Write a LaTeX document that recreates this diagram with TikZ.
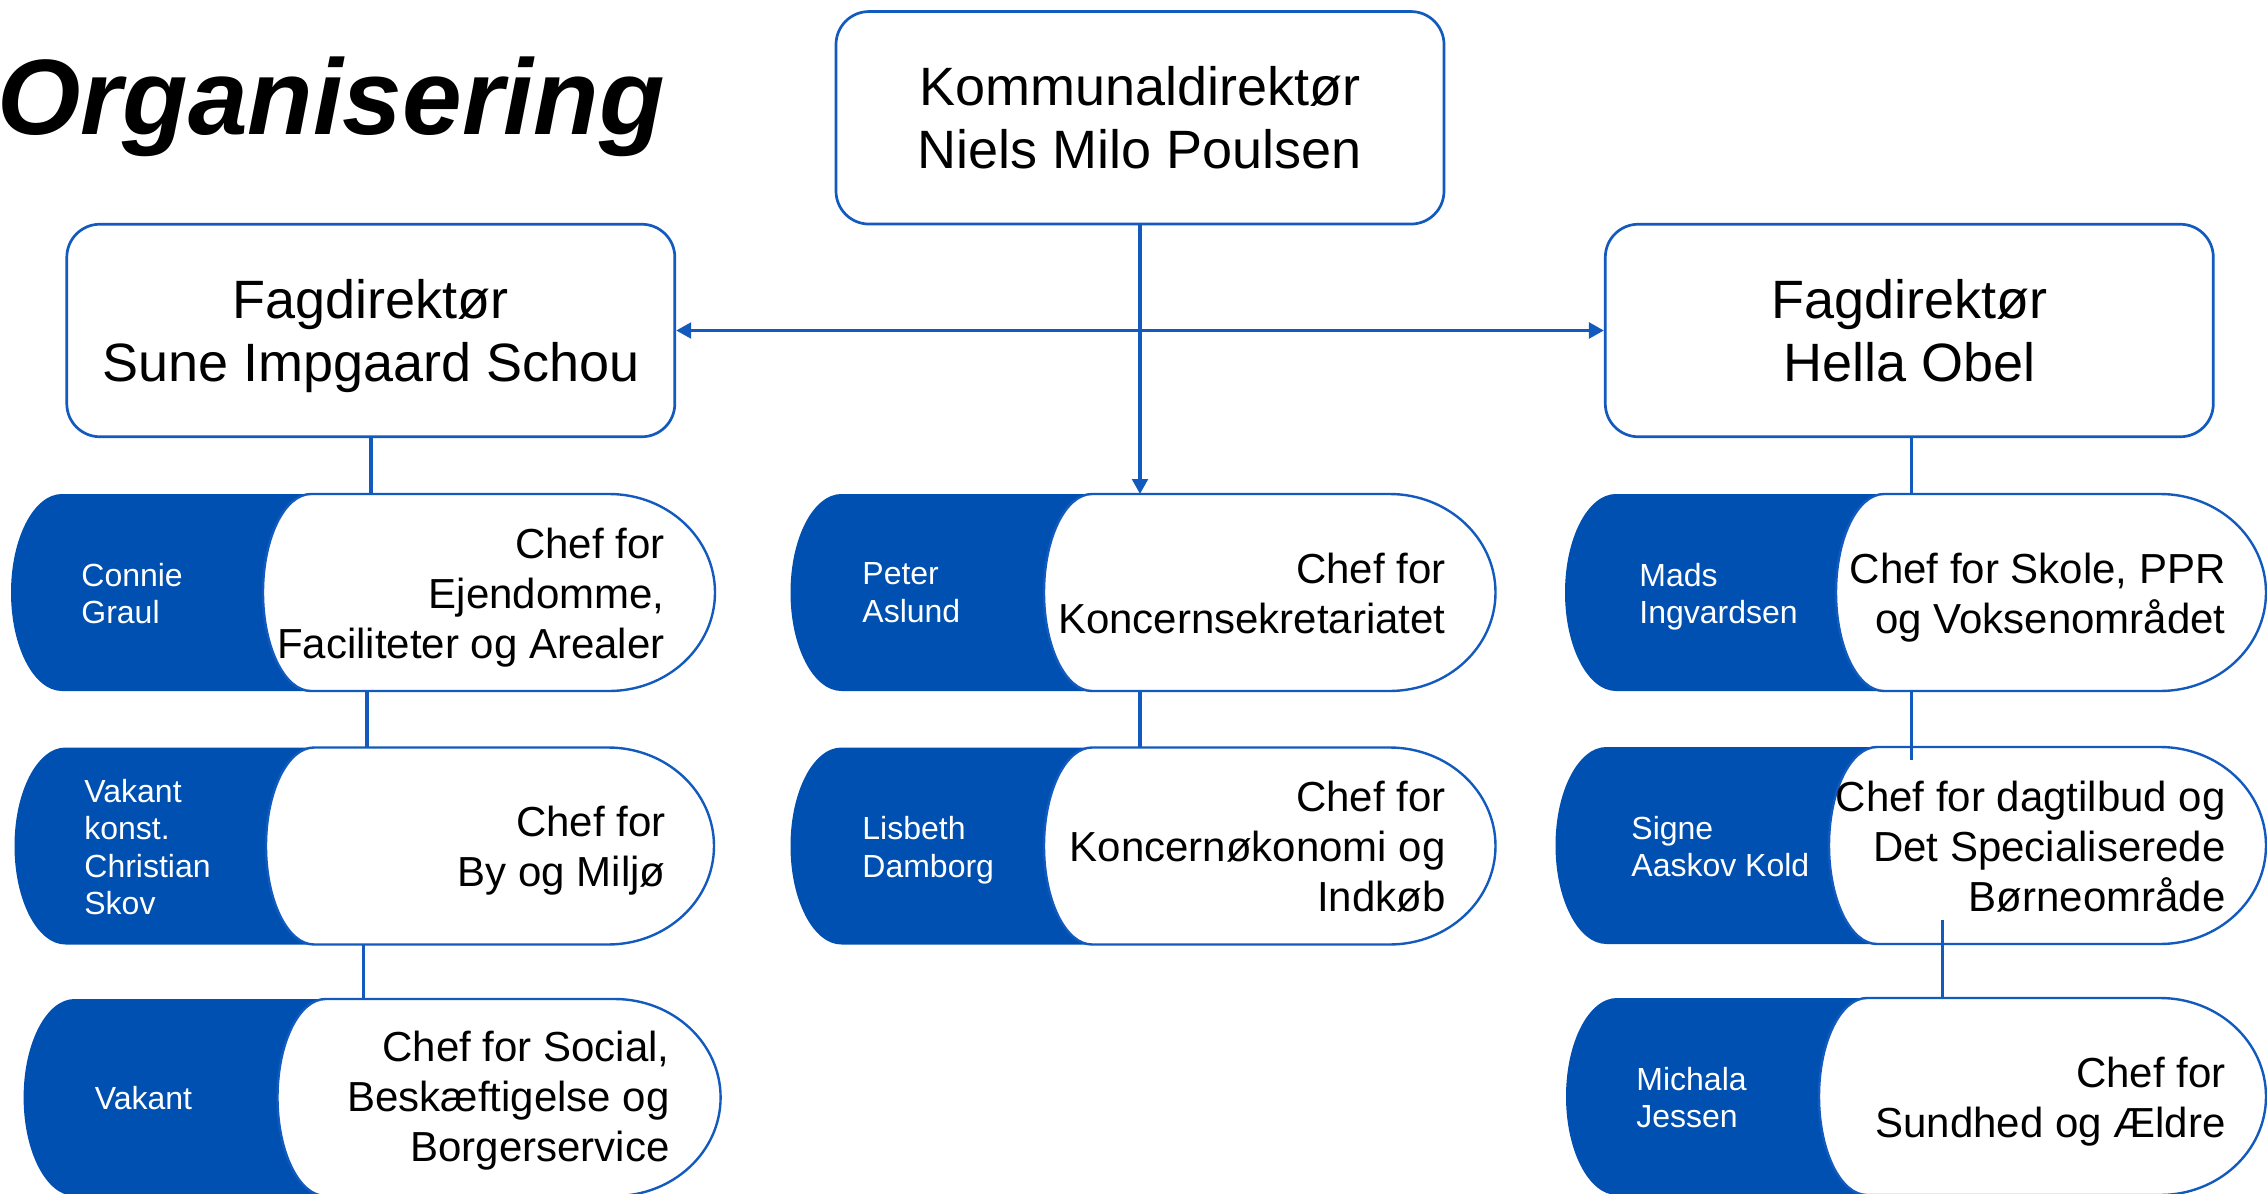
\documentclass[tikz,border=0pt]{standalone}
\usepackage{fontspec}
\setmainfont{Liberation Sans}
\usetikzlibrary{arrows.meta,calc}
\definecolor{kblue}{RGB}{0,80,178}
\definecolor{lblue}{RGB}{18,90,190}
\tikzset{
  dirbox/.style={draw=lblue, line width=1.35pt, rounded corners=16.5pt, fill=white,
    minimum width=304pt, minimum height=106.25pt, align=center, inner sep=0pt,
    font=\fontsize{27}{31.5}\selectfont},
  pillline/.style={draw=lblue, line width=1.2pt},
  pilltext/.style={inner sep=0pt, align=right, text=black, font=\fontsize{21}{25}\selectfont},
  nametext/.style={inner sep=0pt, align=left, text=white, font=\fontsize{16}{18.75}\selectfont},
  conn/.style={draw=lblue, line width=1.7pt},
  tip/.style={-{Triangle[length=7.5pt,width=7.8pt]}},
  tiptwo/.style={{Triangle[length=7.5pt,width=7.8pt]}-{Triangle[length=7.5pt,width=7.8pt]}}
}
\newcommand\mkpill[5]{%
  \pgfmathsetmacro\pL{#2}\pgfmathsetmacro\pW{#3}\pgfmathsetmacro\pR{#4}\pgfmathsetmacro\pT{#5}%
  \pgfmathsetmacro\pB{\pT+197}%
  \pgfmathsetmacro\pa{\pL+51}\pgfmathsetmacro\pb{\pW+60}%
  \pgfmathsetmacro\pc{\pW+48}\pgfmathsetmacro\pd{\pR-106}%
  \pgfmathsetmacro\pwd{(\pR-\pL)/2}%
  \fill[kblue] (\pa,\pT) arc[start angle=90,end angle=270,x radius=25.5pt,y radius=49.25pt]
     -- (\pb,\pB) -- (\pb,\pT) -- cycle;
  \draw[pillline, fill=white] (\pc,\pT) -- (\pd,\pT)
     arc[start angle=90,end angle=-90,x radius=53pt,y radius=49.25pt]
     -- (\pc,\pB) arc[start angle=270,end angle=90,x radius=24pt,y radius=49.25pt] -- cycle;
  \node[inner sep=0pt, outer sep=0pt, minimum width=\pwd pt, minimum height=98.5pt,
        anchor=north west] (#1) at (\pL,\pT) {};
}
\begin{document}
\begin{tikzpicture}[x=0.5pt,y=-0.5pt]
\useasboundingbox (0,0) rectangle (2267,1194);
\clip (0,0) rectangle (2267,1194);

% title
\node[anchor=base west, inner sep=0pt, font=\fontsize{53.6}{60}\selectfont\bfseries\itshape] (title) at (-3,134) {Organisering};

% director boxes
\node[dirbox] (tb) at (1140,117.8) {Kommunaldirektør\\Niels Milo Poulsen};
\node[dirbox] (fl) at (370.8,330.5) {Fagdirektør\\\raisebox{0pt}[\height][0pt]{Sune Impgaard Schou}};
\node[dirbox] (fr) at (1909.3,330.5) {Fagdirektør\\Hella Obel};

% pills
\mkpill{p1}{11}{263}{715}{494}
\mkpill{p2}{14.5}{266}{714}{747.5}
\mkpill{p3}{23.6}{277.5}{720.6}{999}
\mkpill{p4}{790.5}{1044}{1495.5}{494}
\mkpill{p5}{790.5}{1044}{1495.5}{747.5}
\mkpill{p6}{1565}{1836}{2266}{494}
\mkpill{p7}{1555.5}{1829}{2266}{747}
\mkpill{p8}{1566}{1819}{2266}{998}

% pill texts
\node[pilltext, anchor=north east] (t1) at (665,527.5) {Chef for\\Ejendomme,\\Faciliteter og Arealer};
\node[nametext, anchor=north west] (n1) at (81,562.5) {Connie\\Graul};
\node[pilltext, anchor=north east] (t2) at (666,806) {Chef for\\By og Miljø};
\node[nametext, anchor=north west] (n2) at (84,778.5) {Vakant\\konst.\\Christian\\Skov};
\node[pilltext, anchor=north east] (t3) at (670,1030.5) {Chef for Social,\\Beskæftigelse og\\Borgerservice};
\node[nametext, anchor=north west] (n3) at (94.4,1086.3) {Vakant};
\node[pilltext, anchor=north east] (t4) at (1446,552.5) {Chef for\\Koncernsekretariatet};
\node[nametext, anchor=north west] (n4) at (862,562.5) {Peter\\Aslund};
\node[pilltext, anchor=north east] (t5) at (1446,781) {Chef for\\Koncernøkonomi og\\Indkøb};
\node[nametext, anchor=north west] (n5) at (862,816) {Lisbeth\\Damborg};
\node[pilltext, anchor=north east] (t6) at (2226,552.5) {Chef for Skole, PPR\\og Voksenområdet};
\node[nametext, anchor=north west] (n6) at (1639,562.5) {Mads\\Ingvardsen};
\node[pilltext, anchor=north east] (t7) at (2226,780.5) {Chef for dagtilbud og\\Det Specialiserede\\Børneområde};
\node[nametext, anchor=north west] (n7) at (1631,815.5) {Signe\\Aaskov Kold};
\node[pilltext, anchor=north east] (t8) at (2226,1056.5) {Chef for\\Sundhed og Ældre};
\node[nametext, anchor=north west] (n8) at (1636,1066.5) {Michala\\Jessen};

% connectors
\draw[conn, tiptwo] (fl.east) -- (fr.west);
\draw[conn, tip] (tb.south) -- (tb.south |- p4.north);
\draw[conn] (tb.south |- p4.south) -- (tb.south |- p5.north);

\draw[conn] (fl.south) -- (fl.south |- p1.north);
\draw[conn] ($(p1.south)+(4,0)$) coordinate (c12) -- (c12 |- p2.north);
\draw[conn] ($(p2.south)+(-1,0)$) coordinate (c23) -- (c23 |- p3.north);

\draw[conn] ($(fr.south)+(2,0)$) coordinate (c6) -- (c6 |- p6.north);
\draw[conn] ($(c6 |- p6.south)$) coordinate (c67) -- ($(c67 |- p7.north)+(0,13)$) coordinate (c67e);
\draw[conn] ($(p7.south)+(32,-24.5)$) coordinate (c78) -- (c78 |- p8.north);
\end{tikzpicture}
\end{document}
